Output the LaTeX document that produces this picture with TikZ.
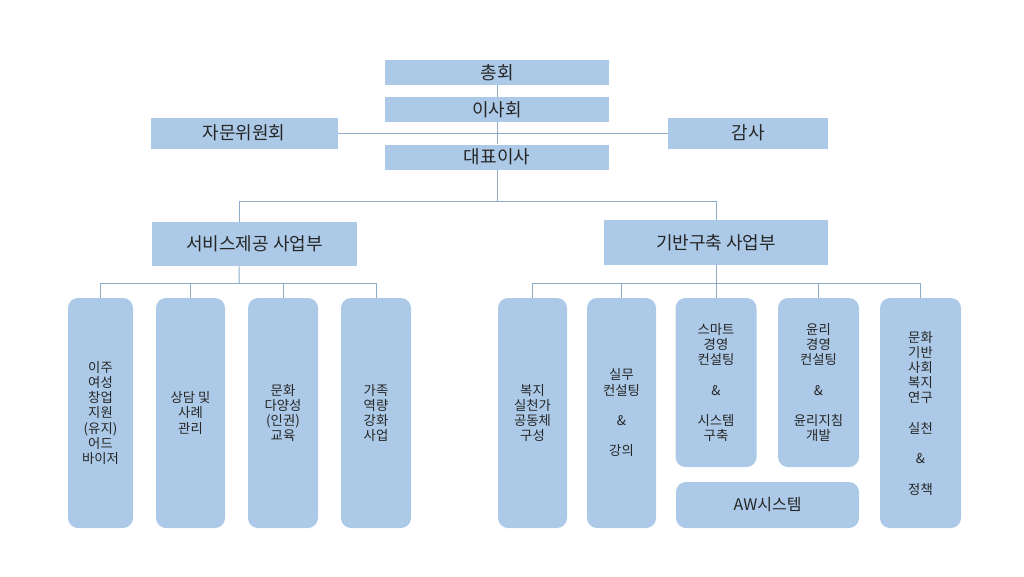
\documentclass[tikz,border=0pt]{standalone}
\usepackage{fontspec}
\setmainfont{Noto Sans CJK KR}
\usepackage{xcolor}
\definecolor{boxblue}{RGB}{172,202,231}
\definecolor{linkblue}{RGB}{140,172,200}
\begin{document}
\begin{tikzpicture}[x=0.75pt,y=-0.75pt,
  top/.style={fill=boxblue,inner sep=0pt,text=black!85,font=\fontsize{13.5}{15}\selectfont},
  unit/.style={fill=boxblue,inner sep=0pt,rounded corners=7.5pt,align=center,text=black!85,
    font=\fontsize{10}{11.4}\selectfont},
  link/.style={draw=linkblue,line width=0.75pt}]
\useasboundingbox (0,0) rectangle (1024,576);
\node (1) at (497,72.5) [top,minimum width=168pt,minimum height=18.75pt] {총회};
\node (2) at (497,109.5) [top,minimum width=168pt,minimum height=18.75pt] {이사회};
\node (3) at (244,133) [top,minimum width=140.25pt,minimum height=23.25pt] {자문위원회};
\node (4) at (497,157) [top,minimum width=168pt,minimum height=18.75pt] {대표이사};
\node (5) at (748,133) [top,minimum width=120pt,minimum height=23.25pt] {감사};
\node (6) at (254.5,244) [top,minimum width=153.75pt,minimum height=33pt] {서비스제공 사업부};
\node (7) at (716,242.5) [top,minimum width=168pt,minimum height=33.75pt] {기반구축 사업부};
\node (8) at (100.5,413) [unit,minimum width=48.75pt,minimum height=172.5pt] {이주\\여성\\창업\\지원\\(유지)\\어드\\바이저};
\node (9) at (190.5,413) [unit,minimum width=51.75pt,minimum height=172.5pt] {상담 및\\사례\\관리};
\node (10) at (283,413) [unit,minimum width=52.5pt,minimum height=172.5pt] {문화\\다양성\\(인권)\\교육};
\node (11) at (376,413) [unit,minimum width=52.5pt,minimum height=172.5pt] {가족\\역량\\강화\\사업};
\node (12) at (532.5,413) [unit,minimum width=51.75pt,minimum height=172.5pt] {복지\\실천가\\공동체\\구성};
\node (13) at (621.5,413) [unit,minimum width=51.75pt,minimum height=172.5pt] {실무\\컨설팅\\[\baselineskip]\&\\[\baselineskip]강의};
\node (14) at (716,382.5) [unit,minimum width=60.75pt,minimum height=126.75pt] {스마트\\경영\\컨설팅\\[\baselineskip]\&\\[\baselineskip]시스템\\구축};
\node (15) at (818.5,382.5) [unit,minimum width=60.75pt,minimum height=126.75pt] {윤리\\경영\\컨설팅\\[\baselineskip]\&\\[\baselineskip]윤리지침\\개발};
\node (16) at (920.5,413) [unit,minimum width=60.75pt,minimum height=172.5pt] {문화\\기반\\사회\\복지\\연구\\[\baselineskip]실천\\[\baselineskip]\&\\[\baselineskip]정책};
\node (17) at (767.5,505) [unit,minimum width=137.25pt,minimum height=34.5pt,font=\fontsize{12}{14}\selectfont] {AW시스템};
\coordinate (a) at (497,201);
\coordinate (b) at (239,283);
\coordinate (c) at (716,283);
\draw [link] (1) -- (2);
\draw [link] (2) -- (4);
\draw [link] (3) -- (5);
\draw [link] (4) -- (a);
\draw [link] (a) -| ([xshift=-11.6pt]6.north);
\draw [link] (a) -| (7);
\draw [link] ([xshift=-11.6pt]6.south) -- (b);
\draw [link] (b) -| (8);
\draw [link] (b) -| (9);
\draw [link] (b) -| (10);
\draw [link] (b) -| (11);
\draw [link] (7) -- (c);
\draw [link] (c) -| (12);
\draw [link] (c) -| (13);
\draw [link] (c) -- (14);
\draw [link] (c) -| (15);
\draw [link] (c) -| (16);
\end{tikzpicture}
\end{document}
